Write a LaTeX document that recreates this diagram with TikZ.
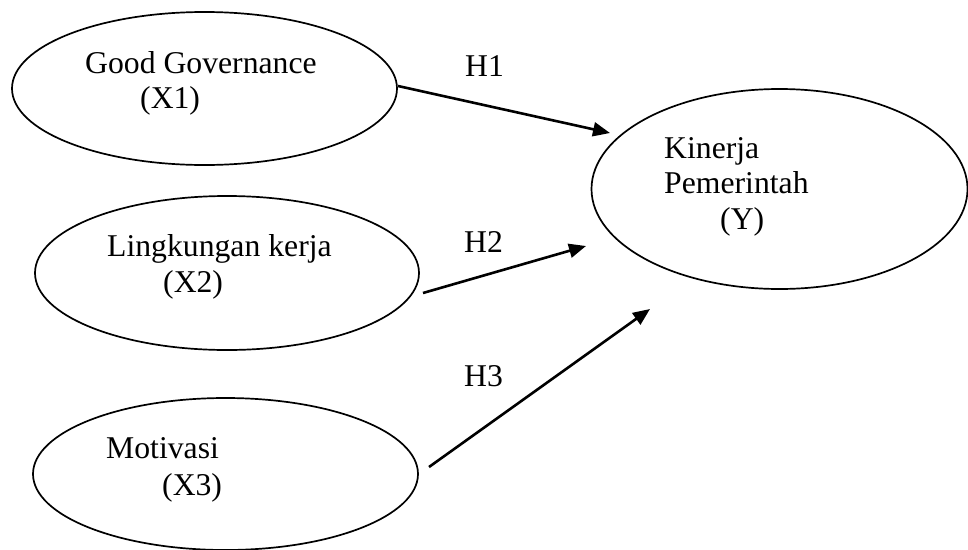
\documentclass[tikz,border=0pt]{standalone}
\usepackage{fontspec}
\setmainfont{Liberation Serif}
\usetikzlibrary{shapes.geometric,arrows.meta}
\begin{document}
\begin{tikzpicture}[x=1pt,y=-1pt,
  latent/.style={ellipse, draw, line width=1.7pt, inner sep=0pt, outer sep=0pt},
  lbl/.style={anchor=base west, inner sep=0pt, font=\fontsize{31.7}{38}\selectfont},
  hyp/.style={line width=2.6pt, -{Triangle[length=17pt,width=14pt]}}]
\useasboundingbox (0,0) rectangle (968,549);
% ellipses
\node[latent, minimum width=385pt, minimum height=153pt] (e1) at (204.5,88.5) {};
\node[latent, minimum width=384pt, minimum height=154pt] (e2) at (227,273) {};
\node[latent, minimum width=385pt, minimum height=152pt] (e3) at (225.5,474) {};
\node[latent, minimum width=376pt, minimum height=200pt] (ey) at (779.5,189) {};
% texts
\node[lbl] (t1a) at (85,73) {Good Governance};
\node[lbl] (t1b) at (140,108) {(X1)};
\node[lbl] (t2a) at (107,256) {Lingkungan kerja};
\node[lbl] (t2b) at (163,292) {(X2)};
\node[lbl] (t3a) at (106,458) {Motivasi};
\node[lbl] (t3b) at (162,495) {(X3)};
\node[lbl] (tya) at (664,158) {Kinerja};
\node[lbl] (tyb) at (664,193) {Pemerintah};
\node[lbl] (tyc) at (720,229) {(Y)};
% hypothesis labels
\node[lbl] (h1) at (465,76) {H1};
\node[lbl] (h2) at (464,252) {H2};
\node[lbl] (h3) at (464,386) {H3};
% arrow end points
\coordinate (s1) at (398,86);
\coordinate (p1) at (610,133);
\coordinate (s2) at (423,293);
\coordinate (p2) at (586,246);
\coordinate (s3) at (429,467);
\coordinate (p3) at (650,309);
\draw[hyp] (s1) -- (p1);
\draw[hyp] (s2) -- (p2);
\draw[hyp] (s3) -- (p3);
\end{tikzpicture}
\end{document}
